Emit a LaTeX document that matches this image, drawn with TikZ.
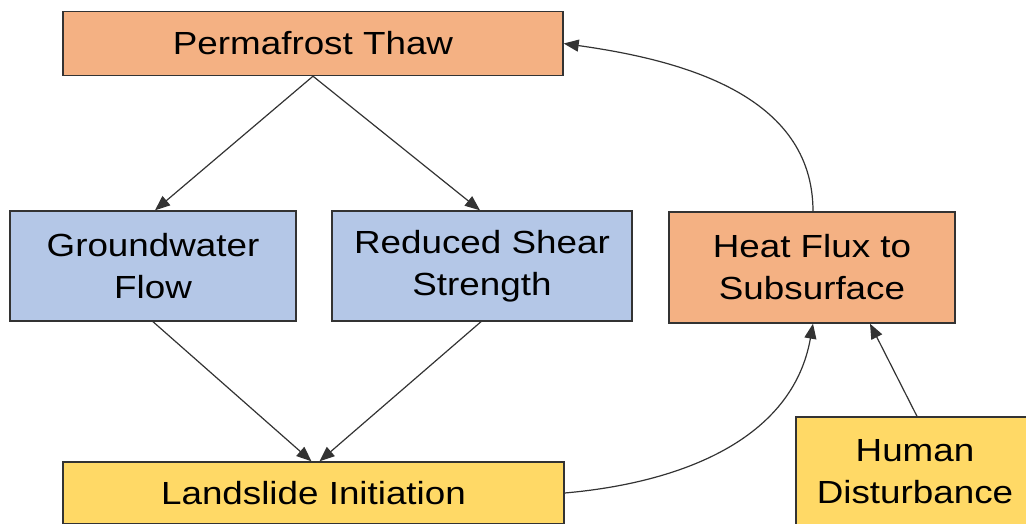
\documentclass[tikz,border=0pt]{standalone}
\usepackage{fontspec}
\setmainfont[FakeStretch=1.15]{Liberation Sans}
\usetikzlibrary{arrows.meta}
\definecolor{boxorange}{HTML}{F4B183}
\definecolor{boxblue}{HTML}{B4C7E7}
\definecolor{boxyellow}{HTML}{FFD966}
\definecolor{edgegray}{HTML}{333333}
\begin{document}
\begin{tikzpicture}[x=1pt,y=1pt,
  box/.style={draw=edgegray,line width=1.4pt,inner sep=0pt,align=center,
    font=\fontsize{32}{42}\selectfont,text=black},
  orangebox/.style={box,fill=boxorange},
  bluebox/.style={box,fill=boxblue},
  yellowbox/.style={box,fill=boxyellow},
  conn/.style={draw=edgegray,line width=1.2pt,-{Triangle[length=15pt,width=12pt]}}]
\useasboundingbox (0,0) rectangle (1026,-523);
\node[orangebox,minimum width=500pt,minimum height=64pt] (pt) at (313,-43.5) {Permafrost Thaw};
\node[bluebox,minimum width=286pt,minimum height=110pt] (gw) at (153,-266) {Groundwater\\Flow};
\node[bluebox,minimum width=300pt,minimum height=110pt] (rs) at (482,-266) {Reduced Shear\\Strength};
\node[orangebox,minimum width=286pt,minimum height=111pt] (hf) at (812,-267.5) {Heat Flux to\\Subsurface};
\node[yellowbox,minimum width=501pt,minimum height=62pt] (ls) at (313.5,-493) {Landslide Initiation};
\node[yellowbox,minimum width=238pt,minimum height=110pt] (hd) at (915,-472) {Human\\Disturbance};
\draw[conn] (pt.south) -- ([xshift=2pt]gw.north);
\draw[conn] (pt.south) -- ([xshift=-2pt]rs.north);
\draw[conn] (gw.south) -- ([xshift=-2pt]ls.north);
\draw[conn] ([xshift=-1pt]rs.south) -- ([xshift=6pt]ls.north);
\draw[conn] (ls.east) to[out=5,in=-100] ([xshift=1pt]hf.south);
\draw[conn] ([xshift=2pt]hd.north) -- ([xshift=58pt]hf.south);
\draw[conn] ([xshift=1pt]hf.north) to[out=90,in=-8] (pt.east);
\end{tikzpicture}
\end{document}
